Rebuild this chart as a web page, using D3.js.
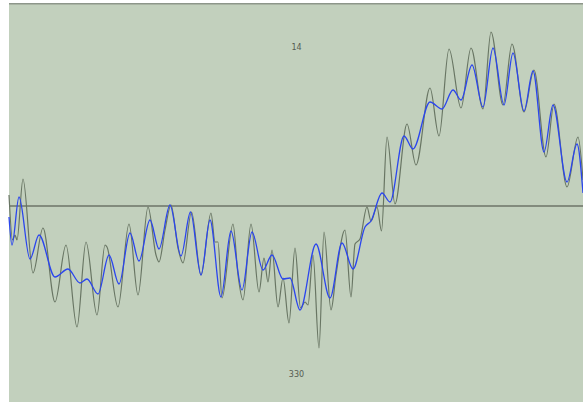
<!DOCTYPE html>
<html>
<head>
<meta charset="utf-8">
<script src="https://cdn.jsdelivr.net/npm/d3@7/dist/d3.min.js"></script>
<style>
  html, body { margin: 0; padding: 0; background: #ffffff; }
  svg { display: block; }
</style>
</head>
<body>
<svg id="chart" width="583" height="402"></svg>
<script>
// Raw signal: sample positions and values
const rawT = [0, 3.5, 6, 8, 14, 24, 34, 46, 57, 68, 77, 88, 96, 98, 109, 120, 129, 139, 147, 150, 156, 162, 169, 174, 182.5, 192, 202, 206, 209, 213, 224, 229, 234, 242, 250, 255, 259, 263, 269, 274, 280, 286, 291.5, 296, 299, 304, 310, 315, 322, 327, 336, 342, 346, 351, 358, 362, 368, 372.5, 378, 386, 398, 407, 421, 430, 440, 452, 462, 474, 482, 494, 503, 515, 525, 537, 545, 558, 569, 574];
const rawV = [1.1, -3.4, -2.9, -3.4, 2.7, -6.7, -2.2, -9.6, -3.9, -12.1, -3.6, -10.9, -3.9, -4.1, -10.1, -1.8, -8.9, -0.1, -4.9, -5.6, -2.4, 0.1, -4.2, -5.7, -0.6, -6.9, -0.7, -3.6, -3.6, -9.2, -1.8, -6.9, -9.4, -1.8, -8.6, -5.2, -7.6, -4.4, -10.1, -7.2, -11.7, -4.2, -10.2, -9.6, -9.9, -4.9, -14.2, -2.6, -10.4, -6.9, -2.4, -9.1, -3.8, -3.3, -0.1, -1.5, -0.1, -2.5, 6.9, 0.2, 8.2, 4.1, 11.8, 7.0, 15.7, 9.8, 15.8, 9.7, 17.4, 10.1, 16.2, 9.4, 13.6, 4.9, 10.2, 1.9, 6.9, 2.6];

// Smoothed signal
const smoothT = [0, 3, 10, 21, 30, 46, 59, 71, 78, 89, 100, 110, 121, 130, 141, 150, 161, 172, 181.5, 192, 201, 212, 222, 233, 243, 254, 263, 274, 281, 291, 307, 321, 333, 344, 356, 362, 373, 381, 395, 404, 421, 433, 444, 452, 463, 474, 484, 495, 504, 515, 524, 535, 544, 558, 568, 574];
const smoothV = [-1.1, -3.9, 0.9, -5.3, -2.9, -7.1, -6.3, -7.7, -7.3, -8.8, -4.9, -7.8, -2.7, -5.5, -1.4, -4.3, 0.1, -5.0, -0.6, -6.9, -1.4, -9.1, -2.5, -8.4, -2.6, -6.4, -4.9, -7.3, -7.2, -10.4, -3.8, -9.2, -3.7, -6.3, -2.1, -1.5, 1.3, 0.4, 7.0, 5.7, 10.4, 9.7, 11.6, 10.6, 14.1, 9.9, 15.8, 10.1, 15.3, 9.5, 13.5, 5.4, 10.1, 2.4, 6.2, 1.3];

// Text labels
const topLabel = "14";
const bottomLabel = "330";

const W = 583, H = 402;
const plot = { left: 9, top: 3, right: 583, bottom: 402 };

const svg = d3.select("#chart");

const x = d3.scaleLinear().domain([0, 574]).range([plot.left, plot.right]);
const y = d3.scaleLinear().domain([-20, 20]).range([406, 6]);

// Plot background
svg.append("rect")
  .attr("x", plot.left).attr("y", plot.top)
  .attr("width", plot.right - plot.left).attr("height", plot.bottom - plot.top)
  .attr("fill", "#c2d0bd");

// Top edge
svg.append("line")
  .attr("x1", plot.left).attr("x2", plot.right)
  .attr("y1", plot.top + 0.75).attr("y2", plot.top + 0.75)
  .attr("stroke", "#8d968a").attr("stroke-width", 1.5);

// Zero line
svg.append("line")
  .attr("x1", plot.left).attr("x2", plot.right)
  .attr("y1", y(0)).attr("y2", y(0))
  .attr("stroke", "#6c7568").attr("stroke-width", 1.4);

const line = d3.line()
  .x(d => x(d[0]))
  .y(d => y(d[1]))
  .curve(d3.curveMonotoneX);

const g = svg.append("g");

g.append("path")
  .datum(d3.zip(rawT, rawV))
  .attr("d", line)
  .attr("fill", "none")
  .attr("stroke", "#687563")
  .attr("stroke-width", 1.2);

g.append("path")
  .datum(d3.zip(smoothT, smoothV))
  .attr("d", line)
  .attr("fill", "none")
  .attr("stroke", "#2a45ee")
  .attr("stroke-width", 1.3);

svg.append("text")
  .attr("x", 296.5).attr("y", 50)
  .attr("text-anchor", "middle")
  .attr("font-family", "DejaVu Sans, sans-serif")
  .attr("font-size", 8)
  .attr("fill", "#555c52")
  .text(topLabel);

svg.append("text")
  .attr("x", 296.5).attr("y", 377)
  .attr("text-anchor", "middle")
  .attr("font-family", "DejaVu Sans, sans-serif")
  .attr("font-size", 8)
  .attr("fill", "#555c52")
  .text(bottomLabel);
</script>
</body>
</html>
